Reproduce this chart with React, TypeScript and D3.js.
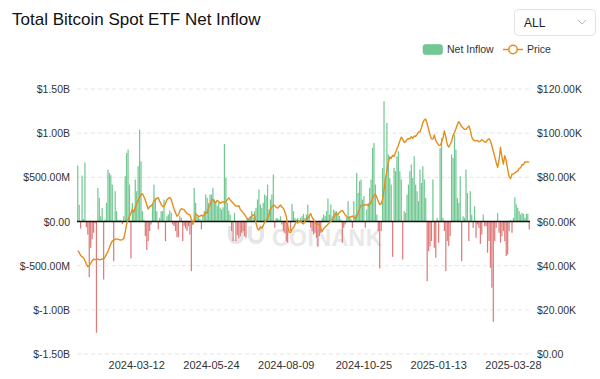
import React from "react";
import * as d3 from "d3";

// Net inflow per trading day, in millions of USD
const flowsA = [633,190,-80,520,30,667,-64,-147,-630,-298,
-200,-128,-20,-1259,380,268,60,155,-656,20,
211,588,550,524,418,-449,343,117,20,10,
15,-30,60,513,777,814,418,-418,211,135,
475,343,626,1040,682,117,20,-166,-324,-222,
-109,-34,192,418,268,117,-90,41,117,117,
249,-222,60,80,124,98,-34,-53,-109,-177,
-177,60,41,-222,-50,-79,-109,-53];
const flowsB = [-147,-562,-34,380,211,60,50,30,-90,60,
117,305,268,211,305,305,380,249,230,173,
211,155,136,160,878,494,211,124,79,-109,
-222,98,-222,-155,-192,-166,-128,-109,-166,-185,
41,35,60,117,50,117,155,249,362,192,
155,211,305,287,418,136,249,305,532,-72,
41,35,23,60,-34,-109,-128,-222,-241,10,
-109,200,117,41,23,41,5,41,60,87];
const flowsC = [41,79,192,60,-72,-109,-147,-128,-185,-287,
-166,-128,41,79,60,117,260,79,192,60,
136,117,117,98,60,23,-241,-72,-34,41,
230,60,30,-72,230,79,550,324,456,475,
249,287,-72,136,211,380,475,833,890,418,
79,-109,-532,-109,607,1361,494,1116,758,494,
418,-400,607,569,739,795,569,475,-430,117,
98,305,418,569,645,494,739,418,343,230];
const flowsD = [588,437,626,475,268,-675,-336,-279,-222,475,
-298,-411,41,-241,833,946,41,-109,-562,-222,
-279,-166,758,720,984,814,268,211,513,-449,
60,41,588,324,-222,343,79,-72,173,-185,
-34,-72,-253,-147,79,-53,-53,-354,-222,-524,
-750,-1135,-222,-72,98,-128,-241,-166,-109,-222,
-392,-373,-109,15,-128,41,275,192,155,117,
79,98,87,41,87,87,-90];

// BTC price per trading day, in thousands of USD
const priceA = [46.8,46.0,44.6,44.1,43.5,42.2,40.7,39.6,40.0,41.0,
42.2,42.9,42.8,42.7,43.0,42.7,42.8,43.0,43.0,44.0,
45.2,46.5,48.2,49.9,51.1,51.6,52.0,52.1,52.0,51.7,
51.6,51.8,52.3,55.2,58.9,60.8,62.3,63.8,65.7,64.2,
66.2,68.3,69.6,70.9,72.2,72.6,71.2,69.7,67.6,65.6,
66.8,67.0,67.8,69.3,69.9,70.5,70.8,69.1,67.9,66.8,
66.8,68.2,69.8,70.5,70.9,70.0,67.7,65.7,64.0,62.4,
63.1,64.8,65.8,65.6,65.3,64.4,63.6,63.2];
const priceB = [63.0,61.0,58.8,60.5,63.6,62.8,62.4,62.4,62.9,62.4,
63.2,64.3,63.8,66.4,67.3,69.6,70.0,68.7,68.5,69.6,
69.0,68.3,68.6,68.9,68.6,68.7,69.9,70.7,69.8,69.1,
68.4,67.6,67.0,66.9,67.2,65.5,64.8,63.9,63.2,62.1,
61.1,61.0,61.8,62.2,63.1,62.5,59.2,56.8,56.1,57.6,
56.9,58.3,59.6,60.6,61.4,62.9,65.6,66.5,67.4,67.3,
66.4,66.1,66.7,67.5,66.5,66.0,64.4,62.4,58.0,55.2,
55.0,56.4,57.2,58.6,59.9,59.3,60.3,60.3,59.3,58.9];
const priceC = [60.2,61.0,61.7,62.5,63.6,61.8,60.9,59.7,58.8,58.8,
58.5,56.6,55.5,56.8,57.4,58.1,58.8,59.5,60.1,60.8,
61.4,63.4,63.1,63.4,64.1,64.7,65.0,64.0,63.0,62.3,
61.6,61.6,62.1,62.5,62.0,61.4,62.1,64.0,65.9,67.2,
67.4,67.3,67.7,67.5,67.2,67.6,68.9,70.4,71.8,72.4,
71.0,69.1,67.7,68.0,69.9,74.5,79.5,82.8,86.7,89.2,
88.6,90.0,89.4,91.2,92.9,94.5,96.5,98.2,97.3,95.9,
96.1,97.2,97.6,97.4,98.4,97.7,98.7,98.5,99.5,100.5];
const priceD = [100.5,102.5,104.8,106.0,106.4,104.3,101.8,99.2,97.4,97.3,
99.2,96.6,95.6,94.6,94.4,95.8,97.7,101.0,98.2,94.8,
93.7,95.0,96.3,99.0,100.3,102.0,103.9,105.2,104.2,103.0,
102.3,101.7,101.8,102.5,103.3,101.4,98.2,97.1,96.6,96.6,
96.7,96.1,96.4,97.0,96.6,96.0,96.0,97.0,97.5,96.5,
94.3,91.8,89.3,86.8,84.5,87.8,93.6,89.2,86.0,89.8,
87.6,83.7,80.3,79.4,81.4,81.6,82.0,82.5,82.8,84.1,
84.3,85.8,85.7,87.0,86.9,87.0,86.8];

const netInflow = [...flowsA, ...flowsB, ...flowsC, ...flowsD];
const price = [...priceA, ...priceB, ...priceC, ...priceD];

const START_DATE = "2024-01-11";
const HOLIDAYS = ["2024-01-15","2024-02-19","2024-03-29","2024-05-27","2024-06-19","2024-07-04","2024-09-02","2024-11-28","2024-12-25","2025-01-01","2025-01-09","2025-01-20","2025-02-17"];
const xTickLabels = ["2024-03-12","2024-05-24","2024-08-09","2024-10-25","2025-01-13","2025-03-28"];
const leftTicks = [-1500, -1000, -500, 0, 500, 1000, 1500];
const rightTicks = [0, 20, 40, 60, 80, 100, 120];

function tradingDays(start: string, n: number): string[] {
  const out: string[] = [];
  const d = new Date(start + "T00:00:00Z");
  while (out.length < n) {
    const s = d.toISOString().slice(0, 10);
    const wd = d.getUTCDay();
    if (wd !== 0 && wd !== 6 && !HOLIDAYS.includes(s)) out.push(s);
    d.setUTCDate(d.getUTCDate() + 1);
  }
  return out;
}

const dates = tradingDays(START_DATE, netInflow.length);

function fmtLeft(v: number) {
  if (v === 0) return "$0.00";
  const a = Math.abs(v);
  const sign = v < 0 ? "-" : "";
  if (a >= 1000) return "$" + sign + (a / 1000).toFixed(2) + "B";
  return "$" + sign + a.toFixed(2) + "M";
}
function fmtRight(v: number) {
  return v === 0 ? "$0.00" : "$" + v.toFixed(2) + "K";
}

const FONT = "'Liberation Sans', Arial, Helvetica, sans-serif";
const GREEN = "#72c893";
const RED = "#de7a7a";
const ORANGE = "#e38e1c";

export default function App() {
  const W = 600, H = 379;
  const left = 77, right = 530, top = 89, bottom = 354;
  const x = d3.scaleBand<string>().domain(dates).range([left, right]).paddingInner(0.15).paddingOuter(0.1);
  const y = d3.scaleLinear().domain([-1500, 1500]).range([bottom, top]);
  const yP = d3.scaleLinear().domain([0, 120]).range([bottom, top]);
  const bw = x.bandwidth();
  const cx = (d: string) => (x(d) as number) + bw / 2;
  const line = d3.line<number>().x((_, i) => cx(dates[i])).y((v) => yP(v)).curve(d3.curveLinear);

  return (
    <svg width={W} height={H} style={{ position: "absolute", left: 0, top: 0, display: "block", background: "#fff" }} fontFamily={FONT}>
      <text x={12} y={25} fontSize={17} fill="#111">Total Bitcoin Spot ETF Net Inflow</text>

      {/* dropdown */}
      <rect x={514.5} y={9.5} width={81} height={26} rx={4} fill="#fff" stroke="#e2e2e2" />
      <text x={524} y={27} fontSize={12} fill="#222">ALL</text>
      <path d="M578 20 L582 24 L586 20" fill="none" stroke="#b8b8b8" strokeWidth={1} />

      {/* legend */}
      <rect x={423} y={44.5} width={19.5} height={10} rx={2.5} fill={GREEN} stroke="#64bb86" strokeWidth={0.5} />
      <text x={447} y={53} fontSize={10.5} fill="#333">Net Inflow</text>
      <line x1={503} x2={523} y1={49.5} y2={49.5} stroke={ORANGE} strokeWidth={1.5} />
      <circle cx={513} cy={49.5} r={4.2} fill="#fff" stroke={ORANGE} strokeWidth={1.5} />
      <text x={527} y={53} fontSize={10.5} fill="#333">Price</text>

      {/* grid */}
      {leftTicks.map((t) => (
        <line key={t} x1={left} x2={right} y1={y(t)} y2={y(t)} stroke="#e5e5e5" strokeDasharray="4 3" strokeWidth={1} />
      ))}

      {/* watermark */}
      <g fill="none" stroke="#e6e6e6" strokeWidth={4}>
        <path d="M230 226 v10 a6 6 0 0 0 12 0 v-10" />
        <path d="M250 226 v10 a6 6 0 0 0 12 0 v-10" />
      </g>
      <text x={272} y={246} fontSize={23} fontWeight="bold" fill="#e8e8e8" letterSpacing={0.5}>COINANK</text>

      {/* bars */}
      {netInflow.map((v, i) => (
        <rect key={i} x={x(dates[i])} width={bw} y={y(Math.max(0, v))} height={Math.abs(y(v) - y(0))} fill={v >= 0 ? GREEN : RED} />
      ))}
      <line x1={left} x2={right} y1={y(0)} y2={y(0)} stroke="#111" strokeWidth={1.3} />

      {/* price */}
      <path d={line(price) || ""} fill="none" stroke={ORANGE} strokeWidth={1.4} strokeLinejoin="round" />

      {/* axes labels */}
      {leftTicks.map((t) => (
        <text key={t} x={70} y={y(t) + 4} fontSize={10.5} fill="#333" textAnchor="end">{fmtLeft(t)}</text>
      ))}
      {rightTicks.map((t) => (
        <text key={t} x={537} y={yP(t) + 4} fontSize={10.5} fill="#333">{fmtRight(t)}</text>
      ))}
      {xTickLabels.map((d) => (
        <text key={d} x={cx(d)} y={369} fontSize={11} fill="#333" textAnchor="middle">{d}</text>
      ))}
    </svg>
  );
}
